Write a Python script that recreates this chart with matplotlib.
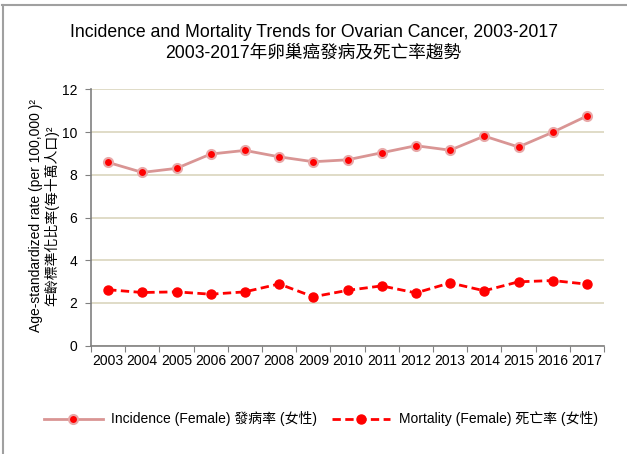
import matplotlib
matplotlib.use("Agg")
import matplotlib.pyplot as plt
from matplotlib.lines import Line2D
import numpy as np

plt.rcParams['font.family'] = ['Liberation Sans', 'Noto Sans CJK TC', 'DejaVu Sans']

years = ['2003', '2004', '2005', '2006', '2007', '2008', '2009', '2010',
         '2011', '2012', '2013', '2014', '2015', '2016', '2017']
incidence = [8.58, 8.11, 8.30, 8.97, 9.14, 8.84, 8.61, 8.70,
             9.03, 9.36, 9.15, 9.81, 9.30, 9.99, 10.75]
mortality = [2.62, 2.49, 2.52, 2.41, 2.52, 2.89, 2.29, 2.59,
             2.80, 2.47, 2.94, 2.57, 2.99, 3.05, 2.88]
yticks = [0, 2, 4, 6, 8, 10, 12]

title = "Incidence and Mortality Trends for Ovarian Cancer, 2003-2017\n2003-2017年卵巢癌發病及死亡率趨勢"
ylabel = "Age-standardized rate (per 100,000 )²\n年齡標準化比率(每十萬人口)²"
lab_inc = "Incidence (Female) 發病率 (女性)"
lab_mort = "Mortality (Female) 死亡率 (女性)"

W, H = 627, 454
fig = plt.figure(figsize=(W / 100, H / 100), dpi=100)
ax = fig.add_axes([91 / W, 1 - 345.7 / H, (604 - 91) / W, (345.7 - 89.3) / H])

x = np.arange(len(years))
ax.plot(x, incidence, color='#D99594', lw=2, marker='o', ms=6.5,
        mfc='#FF0000', mec='#E8A8A8', mew=1.5, label=lab_inc, zorder=3)
ax.plot(x, mortality, color='#FF0000', lw=2, ls=(0, (3, 1.6)), marker='o', ms=6.5,
        mfc='#FF0000', mec='#FF0000', label=lab_mort, zorder=3)

ax.set_xlim(-0.5, len(years) - 0.5)
ax.set_ylim(0, 12)
ax.set_yticks(yticks)
ax.set_yticklabels([str(v) for v in yticks], fontsize=10)
ax.set_xticks(np.arange(len(years) + 1) - 0.5, minor=False)
ax.set_xticklabels([])
ax.set_xticks(x, minor=True)
ax.set_xticklabels(years, minor=True, fontsize=10)
ax.tick_params(axis='x', which='minor', length=0, pad=6)
ax.tick_params(axis='x', which='major', length=4, color='#808080')
ax.tick_params(axis='y', length=4, color='#808080', pad=6)

ax.grid(axis='y', color='#DDD9C3', lw=1.3)
ax.set_axisbelow(True)
for s in ['top', 'right']:
    ax.spines[s].set_visible(False)
for s in ['left', 'bottom']:
    ax.spines[s].set_color('#808080')
    ax.spines[s].set_linewidth(1.2)

fig.text(44 / W, 1 - 216 / H, ylabel, rotation=90, ha='center', va='center',
         fontsize=10, linespacing=1.1, multialignment='center')

fig.text(0.5, 1 - 43 / H, title, ha='center', va='center', fontsize=12.7,
         linespacing=1.25)

fig.legend(loc='center', bbox_to_anchor=(321 / W, 1 - 419 / H), ncol=2,
           frameon=False, fontsize=10, handlelength=4.2, columnspacing=1.1,
           handletextpad=0.6)

fig.add_artist(Line2D([2 / W, 1], [1 - 5 / H, 1 - 5 / H], transform=fig.transFigure,
                      color='#A0A0A0', lw=1.5))
fig.add_artist(Line2D([2.5 / W, 2.5 / W], [0, 1 - 5 / H], transform=fig.transFigure,
                      color='#A0A0A0', lw=1.5))

fig.savefig('out.png', dpi=100)
